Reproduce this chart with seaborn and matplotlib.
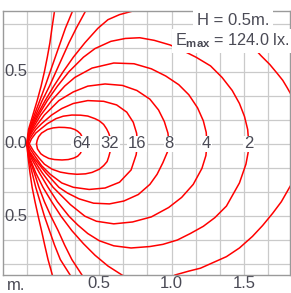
import matplotlib
matplotlib.use("Agg")
import matplotlib.pyplot as plt
import seaborn as sns
import pandas as pd

# ---------------- data (metres) ----------------
iso_64 = [(0.065, 0.0), (0.07, 0.025), (0.08, 0.05), (0.10, 0.075), (0.14, 0.10), (0.18, 0.111),
          (0.22, 0.115), (0.26, 0.114), (0.30, 0.11), (0.33, 0.10), (0.35, 0.088), (0.37, 0.07),
          (0.38, 0.05), (0.388, 0.025), (0.39, 0.0), (0.385, -0.03), (0.369, -0.065), (0.35, -0.085),
          (0.323, -0.098), (0.285, -0.108), (0.242, -0.111), (0.19, -0.108), (0.15, -0.10),
          (0.115, -0.082), (0.095, -0.068), (0.072, -0.035), (0.065, 0.0)]
iso_32 = [(0.015, 0.0), (0.03, 0.035), (0.06, 0.075), (0.09, 0.10), (0.14, 0.14), (0.20, 0.175),
          (0.25, 0.192), (0.31, 0.20), (0.37, 0.199), (0.42, 0.193), (0.47, 0.175), (0.50, 0.16),
          (0.53, 0.135), (0.55, 0.105), (0.565, 0.075), (0.573, 0.05), (0.578, 0.0), (0.575, -0.053),
          (0.565, -0.09), (0.554, -0.122), (0.53, -0.15), (0.50, -0.175), (0.45, -0.197),
          (0.404, -0.207), (0.345, -0.21), (0.288, -0.205), (0.23, -0.195), (0.173, -0.175),
          (0.12, -0.14), (0.085, -0.10), (0.045, -0.05), (0.015, 0.0)]
iso_16 = [(0.005, 0.0), (0.02, 0.04), (0.06, 0.10), (0.10, 0.14), (0.17, 0.20), (0.24, 0.245),
          (0.32, 0.28), (0.42, 0.30), (0.53, 0.295), (0.62, 0.27), (0.69, 0.22), (0.735, 0.15),
          (0.758, 0.075), (0.765, 0.0), (0.755, -0.075), (0.72, -0.18), (0.64, -0.265), (0.54, -0.305),
          (0.43, -0.315), (0.32, -0.30), (0.24, -0.27), (0.16, -0.21), (0.10, -0.15), (0.065, -0.10),
          (0.025, -0.04), (0.005, 0.0)]
iso_8 = [(0.0, 0.0), (0.015, 0.05), (0.045, 0.10), (0.12, 0.20), (0.22, 0.30), (0.32, 0.36),
         (0.42, 0.40), (0.54, 0.415), (0.66, 0.405), (0.76, 0.37), (0.85, 0.31), (0.91, 0.235),
         (0.95, 0.155), (0.975, 0.075), (0.983, 0.0), (0.976, -0.045), (0.94, -0.13), (0.90, -0.21),
         (0.85, -0.28), (0.77, -0.35), (0.67, -0.395), (0.57, -0.415), (0.46, -0.41), (0.36, -0.38),
         (0.28, -0.34), (0.22, -0.30), (0.13, -0.20), (0.05, -0.10), (0.017, -0.05), (0.0, 0.0)]
iso_4 = [(0.0, 0.0), (0.012, 0.05), (0.035, 0.10), (0.095, 0.20), (0.17, 0.30), (0.26, 0.40),
         (0.33, 0.46), (0.45, 0.525), (0.60, 0.56), (0.74, 0.555), (0.86, 0.52), (0.96, 0.47),
         (1.05, 0.41), (1.12, 0.34), (1.18, 0.25), (1.22, 0.16), (1.24, 0.08), (1.245, 0.0),
         (1.238, -0.08), (1.21, -0.17), (1.15, -0.28), (1.07, -0.37), (0.98, -0.44), (0.86, -0.505),
         (0.73, -0.54), (0.60, -0.553), (0.48, -0.535), (0.40, -0.50), (0.30, -0.42), (0.25, -0.37),
         (0.18, -0.30), (0.105, -0.20), (0.04, -0.10), (0.013, -0.05), (0.0, 0.0)]
iso_2 = [(0.0, 0.0), (0.01, 0.05), (0.028, 0.10), (0.08, 0.20), (0.14, 0.30), (0.21, 0.40),
         (0.29, 0.50), (0.39, 0.60), (0.47, 0.66), (0.58, 0.71), (0.68, 0.73), (0.78, 0.735),
         (0.88, 0.717), (0.99, 0.685), (1.08, 0.645), (1.17, 0.60), (1.27, 0.54), (1.35, 0.46),
         (1.42, 0.37), (1.47, 0.28), (1.505, 0.19), (1.527, 0.10), (1.535, 0.0), (1.53, -0.06),
         (1.515, -0.14), (1.47, -0.27), (1.38, -0.43), (1.30, -0.51), (1.22, -0.57), (1.13, -0.62),
         (1.04, -0.665), (0.94, -0.695), (0.85, -0.71), (0.72, -0.72), (0.60, -0.705), (0.50, -0.67),
         (0.42, -0.62), (0.35, -0.56), (0.29, -0.50), (0.21, -0.40), (0.145, -0.30), (0.085, -0.20),
         (0.03, -0.10), (0.01, -0.05), (0.0, 0.0)]
iso_1_upper = [(0.0, 0.0), (0.008, 0.05), (0.022, 0.10), (0.07, 0.20), (0.125, 0.30), (0.185, 0.40),
               (0.25, 0.50), (0.32, 0.60), (0.40, 0.70), (0.49, 0.80), (0.56, 0.86), (0.64, 0.895),
               (0.733, 0.92), (0.80, 0.94)]
iso_1_lower = [(0.0, 0.0), (0.008, -0.05), (0.02, -0.10), (0.06, -0.20), (0.11, -0.30), (0.17, -0.40),
               (0.235, -0.50), (0.31, -0.60), (0.39, -0.69), (0.47, -0.77), (0.56, -0.845),
               (0.657, -0.907), (0.72, -0.94)]
iso_1_far_upper = [(1.25, 0.96), (1.35, 0.87), (1.45, 0.78), (1.565, 0.67), (1.62, 0.61), (1.68, 0.55),
                   (1.73, 0.49), (1.77, 0.44), (1.80, 0.39), (1.84, 0.32)]
iso_1_far_lower = [(0.95, -0.95), (1.024, -0.907), (1.12, -0.88), (1.20, -0.86), (1.29, -0.82),
                   (1.38, -0.78), (1.47, -0.72), (1.56, -0.64), (1.63, -0.565), (1.70, -0.48),
                   (1.76, -0.40), (1.80, -0.33), (1.84, -0.26)]
iso_05_upper = [(0.0, 0.0), (0.006, 0.05), (0.018, 0.10), (0.06, 0.20), (0.105, 0.30), (0.155, 0.40),
                (0.20, 0.50), (0.245, 0.60), (0.29, 0.70), (0.34, 0.80), (0.405, 0.92), (0.43, 0.96)]
iso_05_lower = [(0.0, 0.0), (0.006, -0.05), (0.016, -0.10), (0.05, -0.20), (0.082, -0.30), (0.12, -0.40),
                (0.165, -0.50), (0.215, -0.60), (0.26, -0.70), (0.31, -0.80), (0.38, -0.907), (0.41, -0.95)]
iso_025_upper = [(0.0, 0.0), (0.005, 0.05), (0.015, 0.10), (0.05, 0.20), (0.088, 0.30), (0.125, 0.40),
                 (0.16, 0.50), (0.195, 0.60), (0.23, 0.70), (0.265, 0.80), (0.315, 0.92), (0.335, 0.96)]
iso_025_lower = [(0.0, 0.0), (0.004, -0.05), (0.012, -0.10), (0.035, -0.20), (0.06, -0.30), (0.09, -0.40),
                 (0.12, -0.50), (0.155, -0.60), (0.19, -0.70), (0.23, -0.80), (0.298, -0.907), (0.33, -0.95)]
iso_0125_upper = [(0.0, 0.0), (0.004, 0.05), (0.01, 0.10), (0.04, 0.20), (0.07, 0.30), (0.097, 0.40),
                  (0.12, 0.50), (0.14, 0.60), (0.158, 0.70), (0.172, 0.80), (0.19, 0.92), (0.195, 0.96)]
iso_0125_lower = [(0.0, 0.0), (0.003, -0.05), (0.008, -0.10), (0.02, -0.20), (0.035, -0.30), (0.055, -0.40),
                  (0.077, -0.50), (0.10, -0.60), (0.122, -0.70), (0.145, -0.80), (0.175, -0.907), (0.185, -0.95)]

label_texts = ["64", "32", "16", "8", "4", "2"]
label_x = [0.374, 0.574, 0.761, 0.983, 1.239, 1.536]

x_tick_values = [0.5, 1.0, 1.5]
y_tick_labels = ["0.5", "0.0", "0.5"]
y_tick_values = [0.5, 0.0, -0.5]

title_h = "H = 0.5m."
title_e = r"E$_{\mathbf{max}}$ = 124.0 lx."

# ---------------- build table ----------------
curves = {
    "64": iso_64, "32": iso_32, "16": iso_16, "8": iso_8, "4": iso_4, "2": iso_2,
    "1a": iso_1_upper, "1b": iso_1_lower, "1c": iso_1_far_upper, "1d": iso_1_far_lower,
    "05a": iso_05_upper, "05b": iso_05_lower, "025a": iso_025_upper, "025b": iso_025_lower,
    "0125a": iso_0125_upper, "0125b": iso_0125_lower,
}
rows = []
for name, pts in curves.items():
    for i, (x, y) in enumerate(pts):
        rows.append({"seg": name, "order": i, "x": x, "y": y})
df = pd.DataFrame(rows)

# ---------------- figure ----------------
sns.set_style("white")
plt.rcParams["font.family"] = ["Liberation Sans", "DejaVu Sans"]
plt.rcParams["mathtext.fontset"] = "custom"
plt.rcParams["mathtext.rm"] = "Liberation Sans"
plt.rcParams["mathtext.bf"] = "Liberation Sans:bold"

W, H = 291, 293
fig = plt.figure(figsize=(W / 100, H / 100), dpi=100)
ax = fig.add_axes([3 / W, 1 - 275 / H, 287 / W, 264 / H])

txt_color = "#4a4a55"

sns.lineplot(data=df, x="x", y="y", units="seg", estimator=None, sort=False,
             color="#ff0000", linewidth=1.1, ax=ax, legend=False, zorder=2)

ax.set_xlim(-1 / 6, 1.82)
ax.set_ylim(-0.907, 0.92)
ax.set_xlabel("")
ax.set_ylabel("")

grid_x = [k / 6 for k in range(0, 11)]
grid_y = [k / 6 for k in range(-5, 6)]
ax.set_xticks(grid_x)
ax.set_xticklabels(["" if round(g, 3) not in x_tick_values else f"{g:.1f}" for g in grid_x])
ax.set_yticks(grid_y)
ax.set_yticklabels([])
ax.tick_params(length=0, pad=1, labelsize=12, labelcolor=txt_color)
ax.grid(True, color="#cacaca", linewidth=0.9)
ax.set_axisbelow(True)
for s in ax.spines.values():
    s.set_color("#9a9a9a")
    s.set_linewidth(1.0)

for t, v in zip(y_tick_labels, y_tick_values):
    ax.text(-0.075, v, t, ha="center", va="center", fontsize=12, color=txt_color, zorder=1)

for t, xv in zip(label_texts, label_x):
    ax.text(xv, 0.0, t, ha="center", va="center", fontsize=12, color=txt_color, zorder=4,
            bbox=dict(facecolor="white", edgecolor="none", pad=0.6))

ax.text(1.425, 0.855, title_h, ha="center", va="center", fontsize=12, color=txt_color, zorder=4,
        bbox=dict(facecolor="white", edgecolor="none", pad=2.5))
ax.text(1.418, 0.715, title_e, ha="center", va="center", fontsize=11.7, color=txt_color, zorder=4,
        bbox=dict(facecolor="white", edgecolor="none", pad=2.0))

fig.text(16 / W, 1 - 285 / H, "m.", ha="center", va="center", fontsize=12, color=txt_color)

fig.savefig("out.png", dpi=100)
